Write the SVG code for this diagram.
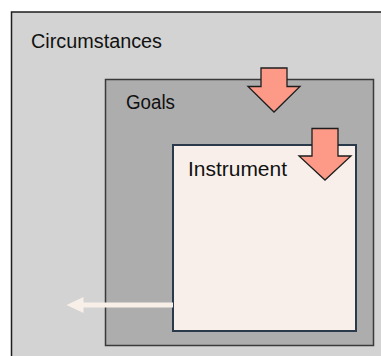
<svg xmlns="http://www.w3.org/2000/svg" width="381" height="356" viewBox="0 0 381 356">
  <style>
    .lbl { font-family: "Liberation Sans", Arial, sans-serif; font-size: 20px; fill: #111; }
    .down { fill: #fc9a87; stroke: #1e1e1e; stroke-width: 1.3; stroke-linejoin: miter; }
  </style>
  <rect width="381" height="356" fill="#ffffff"/>
  <g id="circumstances">
    <rect x="11.5" y="12" width="400" height="400" fill="#d3d3d3" stroke="#1e1e1e" stroke-width="1.5"/>
    <text class="lbl" x="31" y="48" textLength="131" lengthAdjust="spacingAndGlyphs">Circumstances</text>
  </g>
  <g id="goals">
    <rect x="105.5" y="79.5" width="268" height="266" fill="#adadad" stroke="#3a3a3a" stroke-width="1.5"/>
    <text class="lbl" x="126" y="109" textLength="49" lengthAdjust="spacingAndGlyphs">Goals</text>
  </g>
  <g id="instrument">
    <rect x="173" y="145" width="183" height="186" fill="#f8efea" stroke="#2a3a4a" stroke-width="2"/>
    <text class="lbl" x="188" y="176" textLength="99" lengthAdjust="spacingAndGlyphs">Instrument</text>
  </g>
  <g id="connectors">
    <path class="down" d="M261 68 H287 V86.5 H300 L274 112 L248 86.5 H261 Z"/>
    <path class="down" d="M312 128.5 H338 V156 H351 L325 180 L299 156 H312 Z"/>
    <path d="M173 302.5 H83.5 V297 L66.5 305 L83.5 313 V307.5 H173 Z" fill="#f8efe9"/>
  </g>
</svg>
